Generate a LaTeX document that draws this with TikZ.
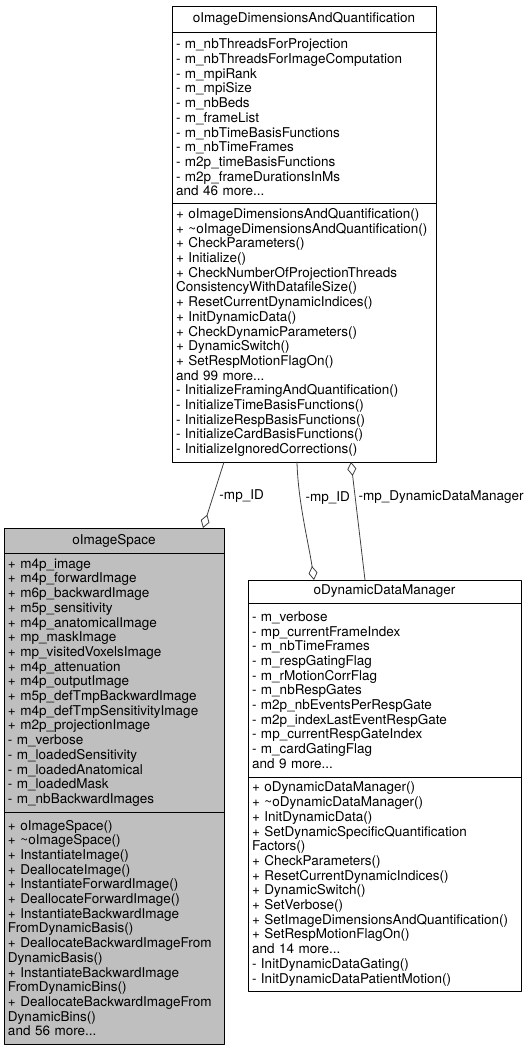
\documentclass[tikz,border=0pt]{standalone}
\usepackage{fontspec}
\setmainfont{TeX Gyre Heros}
\usepackage{tikz}
\usetikzlibrary{positioning, arrows.meta}

\tikzset{
  classpart/.style={draw=black, line width=0.9pt, inner xsep=4pt, inner ysep=0pt,
    outer sep=0pt, font=\fontsize{13.5}{14.7}\selectfont},
  classhead/.style={classpart, align=center},
  classbody/.style={classpart, align=left},
  aggr/.style={draw=black!75, line width=0.8pt, -{Diamond[open, length=14pt, width=9pt]}},
  rolelabel/.style={font=\fontsize{13.5}{14.7}\selectfont, inner sep=0pt, anchor=west}
}

\begin{document}
\begin{tikzpicture}[x=1pt, y=-1pt, line cap=round, line join=round]
             \useasboundingbox (0,0) rectangle (525,1051);
             % oImageDimensionsAndQuantification
             \node[classhead, anchor=north west, text width=256pt, minimum height=26pt] (dimT) at (172,6)
               {oImageDimensionsAndQuantification};
             \node[classbody, below=0pt of dimT.south west, anchor=north west, text width=256pt, minimum height=171pt] (dimA)
               {- m\_nbThreadsForProjection\\- m\_nbThreadsForImageComputation\\- m\_mpiRank\\- m\_mpiSize\\
                - m\_nbBeds\\- m\_frameList\\- m\_nbTimeBasisFunctions\\- m\_nbTimeFrames\\
                - m2p\_timeBasisFunctions\\- m2p\_frameDurationsInMs\\and 46 more...};
             \node[classbody, below=0pt of dimA.south west, anchor=north west, text width=256pt, minimum height=259pt] (dimM)
               {+ oImageDimensionsAndQuantification()\\+~\textasciitilde oImageDimensionsAndQuantification()\\
                + CheckParameters()\\+ Initialize()\\+ CheckNumberOfProjectionThreads\\ConsistencyWithDatafileSize()\\
                + ResetCurrentDynamicIndices()\\+ InitDynamicData()\\+ CheckDynamicParameters()\\+ DynamicSwitch()\\
                + SetRespMotionFlagOn()\\and 99 more...\\- InitializeFramingAndQuantification()\\
                - InitializeTimeBasisFunctions()\\- InitializeRespBasisFunctions()\\
                - InitializeCardBasisFunctions()\\- InitializeIgnoredCorrections()};
             % oImageSpace (grey)
             \node[classhead, fill=black!25, anchor=north west, text width=212pt, minimum height=25pt] (spaceT) at (4,528)
               {oImageSpace};
             \node[classbody, fill=black!25, below=0pt of spaceT.south west, anchor=north west, text width=212pt, minimum height=259pt] (spaceA)
               {+ m4p\_image\\+ m4p\_forwardImage\\+ m6p\_backwardImage\\+ m5p\_sensitivity\\+ m4p\_anatomicalImage\\
                + mp\_maskImage\\+ mp\_visitedVoxelsImage\\+ m4p\_attenuation\\+ m4p\_outputImage\\
                + m5p\_defTmpBackwardImage\\+ m4p\_defTmpSensitivityImage\\+ m2p\_projectionImage\\- m\_verbose\\
                - m\_loadedSensitivity\\- m\_loadedAnatomical\\- m\_loadedMask\\- m\_nbBackwardImages};
             \node[classbody, fill=black!25, below=0pt of spaceA.south west, anchor=north west, text width=212pt, minimum height=232pt] (spaceM)
               {+ oImageSpace()\\+ \textasciitilde oImageSpace()\\+ InstantiateImage()\\+ DeallocateImage()\\
                + InstantiateForwardImage()\\+ DeallocateForwardImage()\\+ InstantiateBackwardImage\\FromDynamicBasis()\\
                + DeallocateBackwardImageFrom\\DynamicBasis()\\+ InstantiateBackwardImage\\FromDynamicBins()\\
                + DeallocateBackwardImageFrom\\DynamicBins()\\and 56 more...};
             % oDynamicDataManager
             \node[classhead, anchor=north west, text width=265pt, minimum height=23pt] (ddmT) at (248,580)
               {oDynamicDataManager};
             \node[classbody, below=0pt of ddmT.south west, anchor=north west, text width=265pt, minimum height=174pt] (ddmA)
               {- m\_verbose\\- mp\_currentFrameIndex\\- m\_nbTimeFrames\\- m\_respGatingFlag\\- m\_rMotionCorrFlag\\
                - m\_nbRespGates\\- m2p\_nbEventsPerRespGate\\- m2p\_indexLastEventRespGate\\
                - mp\_currentRespGateIndex\\- m\_cardGatingFlag\\and 9 more...};
             \node[classbody, below=0pt of ddmA.south west, anchor=north west, text width=265pt, minimum height=214pt] (ddmM)
               {+ oDynamicDataManager()\\+ \textasciitilde oDynamicDataManager()\\+ InitDynamicData()\\
                + SetDynamicSpecificQuantification\\Factors()\\+ CheckParameters()\\+ ResetCurrentDynamicIndices()\\
                + DynamicSwitch()\\+ SetVerbose()\\+~SetImageDimensionsAndQuantification()\\+ SetRespMotionFlagOn()\\
                and 14 more...\\- InitDynamicDataGating()\\- InitDynamicDataPatientMotion()};
             % aggregation links
             \draw[aggr] ([xshift=52pt]dimM.south west) -- ([xshift=199pt]spaceT.north west)
               node[rolelabel, pos=0.52, xshift=6pt] {-mp\_ID};
             \draw[aggr] ([xshift=125pt]dimM.south west) .. controls +(1,40) and +(-5,-35) .. ([xshift=66pt]ddmT.north west)
               node[rolelabel, pos=0.3, xshift=5pt] {-mp\_ID};
             \draw[aggr] ([xshift=117pt]ddmT.north west) -- ([xshift=179pt]dimM.south west)
               node[rolelabel, pos=0.7, xshift=3pt] {-mp\_DynamicDataManager};
     \end{tikzpicture}
\end{document}
